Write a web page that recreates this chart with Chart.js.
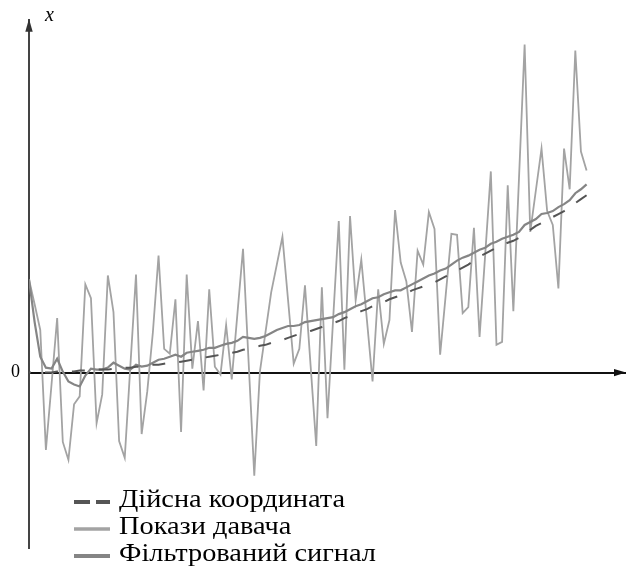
<!DOCTYPE html>
<html>
<head>
<meta charset="utf-8">
<script src="https://cdn.jsdelivr.net/npm/chart.js@4"></script>
<style>
body { margin: 0; background: #fff; }
</style>
</head>
<body>
<canvas id="grafik" width="626" height="576"></canvas>
<script>
// покази давача (шумні вимірювання)
const pokazy = [
  9.4, 6.9, 4.3, -7.8, -1.2, 5.5, -7.0, -8.8, -3.2, -2.4,
  8.9, 7.5, -5.1, -2.2, 9.8, 6.1, -6.9, -8.6, 0.7, 9.9,
  -6.2, -1.9, 4.1, 11.8, 2.4, 1.9, 7.4, -6.0, 9.9, 0.4,
  5.2, -1.8, 8.4, 0.6, -0.2, 4.8, -0.7, 5.9, 12.5, 1.0,
  -10.4, 0.1, 4.1, 8.1, 10.9, 13.7, 7.3, 0.9, 2.4, 8.8,
  0.7, -7.4, 8.6, -4.6, 5.4, 15.3, 0.3, 15.8, 7.3, 11.4,
  5.3, -0.9, 8.4, 2.9, 5.3, 16.4, 11.1, 9.2, 4.1, 12.3,
  10.9, 16.2, 14.5, 1.8, 7.9, 14.0, 13.9, 6.0, 6.6, 14.6,
  3.6, 11.9, 20.3, 2.8, 3.1, 18.9, 6.2, 19.6, 33.1, 14.2,
  18.4, 22.6, 16.3, 14.9, 8.5, 22.6, 18.5, 32.5, 22.3, 20.4
];
// фільтрований сигнал
const filtr = [
  9.4, 5.1, 1.6, 0.5, 0.4, 1.4, 0.1, -0.9, -1.2, -1.4,
  -0.3, 0.4, 0.3, 0.3, 0.5, 1.0, 0.7, 0.4, 0.3, 0.8,
  0.6, 0.7, 1.0, 1.3, 1.4, 1.6, 1.8, 1.6, 2.0, 2.1,
  2.2, 2.3, 2.5, 2.5, 2.7, 2.9, 3.0, 3.2, 3.6, 3.5,
  3.4, 3.5, 3.7, 4.0, 4.3, 4.5, 4.7, 4.7, 4.8, 5.1,
  5.2, 5.3, 5.4, 5.5, 5.6, 5.9, 6.1, 6.4, 6.7, 6.9,
  7.2, 7.5, 7.6, 7.9, 8.1, 8.3, 8.3, 8.6, 8.9, 9.2,
  9.5, 9.8, 10.0, 10.3, 10.5, 10.9, 11.3, 11.6, 11.8, 12.1,
  12.4, 12.6, 13.0, 13.2, 13.5, 13.7, 13.9, 14.2, 14.9, 15.2,
  15.5, 16.0, 16.1, 16.3, 16.7, 17.0, 17.4, 18.1, 18.5, 19.0
];
// дійсна координата
const dijsna = [
  0.0, 0.0, 0.0, 0.0, 0.0, 0.1, 0.1, 0.1, 0.1, 0.2,
  0.2, 0.2, 0.3, 0.3, 0.3, 0.4, 0.4, 0.5, 0.5, 0.6,
  0.6, 0.7, 0.8, 0.8, 0.9, 1.0, 1.0, 1.1, 1.2, 1.3,
  1.4, 1.5, 1.6, 1.7, 1.8, 1.9, 2.0, 2.1, 2.3, 2.4,
  2.5, 2.7, 2.8, 3.0, 3.1, 3.3, 3.5, 3.7, 3.9, 4.0,
  4.2, 4.4, 4.6, 4.8, 5.0, 5.2, 5.5, 5.7, 5.9, 6.2,
  6.4, 6.7, 6.9, 7.1, 7.4, 7.6, 7.8, 8.0, 8.3, 8.5,
  8.7, 8.9, 9.1, 9.4, 9.7, 10.0, 10.3, 10.6, 10.9, 11.3,
  11.7, 12.0, 12.3, 12.6, 12.9, 13.1, 13.3, 13.6, 14.0, 14.4,
  14.8, 15.1, 15.4, 15.7, 16.0, 16.3, 16.7, 17.1, 17.5, 17.9
];
const nazvy = ['Дійсна координата', 'Покази давача', 'Фільтрований сигнал'];
const yTicks = [0];

const shryft = '"Liberation Serif", "DejaVu Serif", serif';

function tochky(arr) {
  return arr.map((v, i) => ({ x: i, y: v }));
}

// стрілки осей, підпис x та легенда
const osi = {
  id: 'osi',
  afterDraw(chart) {
    const { ctx, chartArea } = chart;
    const y0 = chart.scales.y.getPixelForValue(0);
    const lx = chartArea.left;
    ctx.save();
    ctx.fillStyle = '#333';
    ctx.beginPath();
    ctx.moveTo(lx, chartArea.top - 1);
    ctx.lineTo(lx - 3.7, chartArea.top + 12);
    ctx.lineTo(lx + 3.7, chartArea.top + 12);
    ctx.closePath();
    ctx.fill();
    ctx.fillStyle = '#111';
    ctx.beginPath();
    ctx.moveTo(chartArea.right, y0);
    ctx.lineTo(chartArea.right - 12, y0 - 3.7);
    ctx.lineTo(chartArea.right - 12, y0 + 3.7);
    ctx.closePath();
    ctx.fill();

    ctx.fillStyle = '#000';
    ctx.font = 'italic 20px ' + shryft;
    ctx.textBaseline = 'alphabetic';
    ctx.fillText('x', 45, 21);

    // легенда
    const zrazky = [
      { color: '#555', width: 4, dash: [16, 6] },
      { color: '#a3a3a3', width: 3.5, dash: [] },
      { color: '#858585', width: 4, dash: [] }
    ];
    ctx.font = '26px ' + shryft;
    nazvy.forEach((t, i) => {
      const cy = 502 + i * 27;
      ctx.strokeStyle = zrazky[i].color;
      ctx.lineWidth = zrazky[i].width;
      ctx.setLineDash(zrazky[i].dash);
      ctx.beginPath();
      ctx.moveTo(74, cy);
      ctx.lineTo(110, cy);
      ctx.stroke();
      ctx.setLineDash([]);
      ctx.fillStyle = '#000';
      ctx.save();
      ctx.translate(119, cy + 5);
      ctx.scale(1.09, 1);
      ctx.fillText(t, 0, 0);
      ctx.restore();
    });
    ctx.restore();
  }
};

const ctx = document.getElementById('grafik').getContext('2d');
const grafik = new Chart(ctx, {
  type: 'line',
  data: {
    datasets: [
      {
        label: nazvy[0],
        data: tochky(dijsna),
        borderColor: '#555',
        borderWidth: 2,
        borderDash: [13, 14],
        borderDashOffset: 11,
        order: 0
      },
      {
        label: nazvy[1],
        data: tochky(pokazy),
        borderColor: '#a3a3a3',
        borderWidth: 1.8,
        order: 2
      },
      {
        label: nazvy[2],
        data: tochky(filtr),
        borderColor: '#858585',
        borderWidth: 2.2,
        order: 1
      }
    ]
  },
  options: {
    responsive: false,
    animation: false,
    layout: { padding: { top: 15, right: 0, bottom: 28, left: 0 } },
    elements: { point: { radius: 0 }, line: { tension: 0 } },
    plugins: {
      legend: { display: false },
      tooltip: { enabled: false }
    },
    scales: {
      x: {
        type: 'linear',
        min: 0,
        max: 106,
        position: { y: 0 },
        ticks: { display: false },
        grid: { display: false, drawTicks: false },
        border: { display: true, color: '#111', width: 2 }
      },
      y: {
        min: -17.7,
        max: 35.6,
        afterBuildTicks: s => { s.ticks = yTicks.map(v => ({ value: v })); },
        afterFit: s => { s.width = 29; },
        grid: { display: false, drawTicks: false },
        border: { display: true, color: '#444', width: 2 },
        ticks: {
          color: '#000',
          padding: 9,
          font: { family: shryft, size: 18 },
          callback: v => String(v)
        }
      }
    }
  },
  plugins: [osi]
});
</script>
</body>
</html>
